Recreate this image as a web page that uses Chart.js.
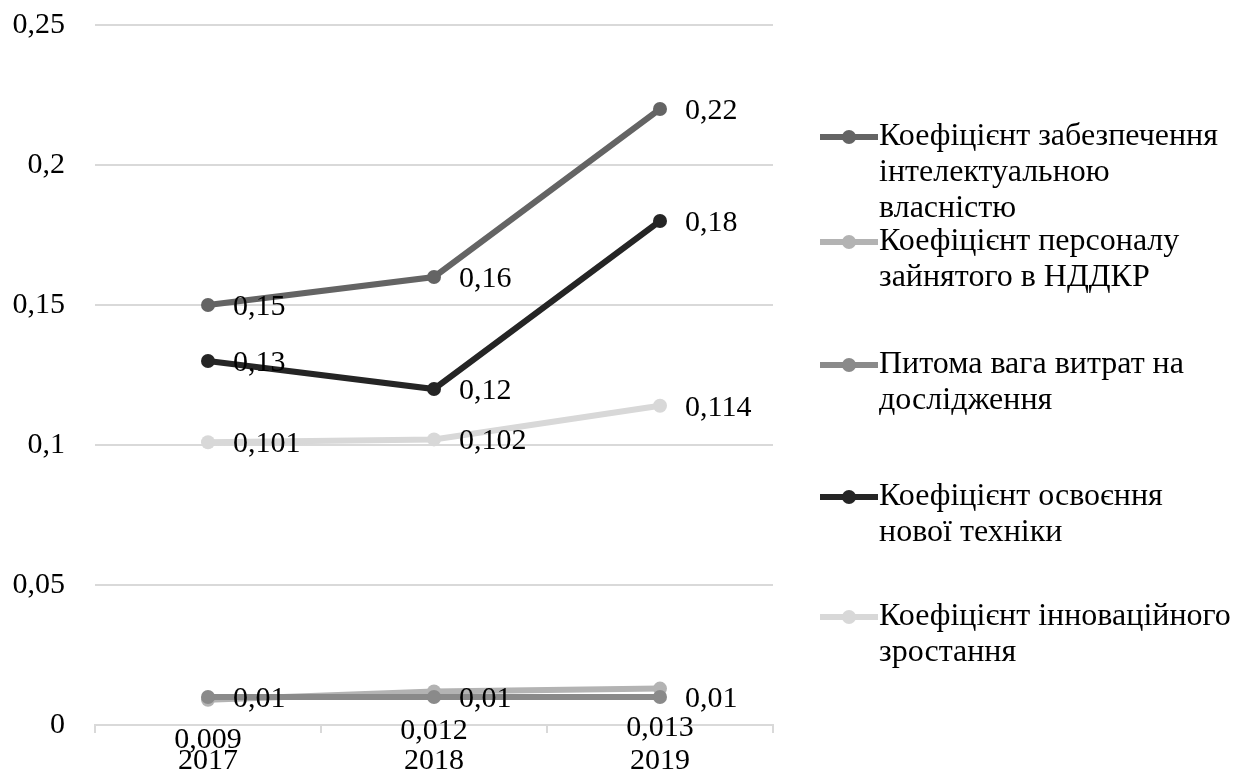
<!DOCTYPE html>
<html>
<head>
<meta charset="utf-8">
<script src="https://cdn.jsdelivr.net/npm/chart.js@4.4.1/dist/chart.umd.min.js"></script>
<style>
    html, body { margin: 0; padding: 0; background: #fff; }
    #wrap { width: 1248px; height: 774px; position: relative; }
</style>
</head>
<body>
<div id="wrap"><canvas id="chart"></canvas></div>
<script>
// Data
const years = ['2017', '2018', '2019'];
const intelProperty = [0.15, 0.16, 0.22];
const staffRnd = [0.009, 0.012, 0.013];
const researchShare = [0.01, 0.01, 0.01];
const newTech = [0.13, 0.12, 0.18];
const innovGrowth = [0.101, 0.102, 0.114];

const seriesNames = [
    ['Коефіцієнт забезпечення', 'інтелектуальною', 'власністю'],
    ['Коефіцієнт персоналу', 'зайнятого в НДДКР'],
    ['Питома вага витрат на', 'дослідження'],
    ['Коефіцієнт освоєння', 'нової техніки'],
    ['Коефіцієнт інноваційного', 'зростання']
];

const FONT = "'Liberation Serif', 'Times New Roman', serif";
const FONT_SIZE = 30;
const LEGEND_SIZE = 32;

const fmt = (v) => String(Number(v.toFixed(3))).replace('.', ',');

function makeSet(i, data, color, labelPos) {
    return {
        label: seriesNames[i].join(' '),
        data: data,
        borderColor: color,
        backgroundColor: color,
        borderWidth: 6,
        pointRadius: 7,
        pointHoverRadius: 7,
        pointBackgroundColor: color,
        pointBorderWidth: 0,
        tension: 0,
        order: 5 - i,
        labelPos: labelPos
    };
}

// Value labels next to each point
const valueLabels = {
    id: 'valueLabels',
    afterDatasetsDraw(chart) {
        const ctx = chart.ctx;
        ctx.save();
        ctx.font = FONT_SIZE + 'px ' + FONT;
        ctx.fillStyle = '#000';
        ctx.textBaseline = 'middle';
        chart.data.datasets.forEach((ds, di) => {
            const meta = chart.getDatasetMeta(di);
            meta.data.forEach((pt, i) => {
                const txt = fmt(ds.data[i]);
                if (ds.labelPos === 'below') {
                    ctx.textAlign = 'center';
                    ctx.fillText(txt, pt.x, pt.y + 40);
                } else {
                    ctx.textAlign = 'left';
                    ctx.fillText(txt, pt.x + 25, pt.y + 2);
                }
            });
        });
        ctx.restore();
    }
};

// Legend on the right, wrapped like the original
const sideLegend = {
    id: 'sideLegend',
    afterDraw(chart) {
        const ctx = chart.ctx;
        const tops = [137, 242, 365, 497, 617];
        const lineH = 36;
        ctx.save();
        ctx.font = LEGEND_SIZE + 'px ' + FONT;
        ctx.textAlign = 'left';
        ctx.textBaseline = 'middle';
        chart.data.datasets.forEach((ds, di) => {
            const y = tops[di];
            ctx.strokeStyle = ds.borderColor;
            ctx.lineWidth = 6;
            ctx.beginPath();
            ctx.moveTo(820, y);
            ctx.lineTo(878, y);
            ctx.stroke();
            ctx.fillStyle = ds.borderColor;
            ctx.beginPath();
            ctx.arc(849, y, 7, 0, Math.PI * 2);
            ctx.fill();
            ctx.fillStyle = '#000';
            seriesNames[di].forEach((line, li) => {
                ctx.fillText(line, 879, y + li * lineH);
            });
        });
        ctx.restore();
    }
};

new Chart(document.getElementById('chart'), {
    type: 'line',
    data: {
        labels: years,
        datasets: [
            makeSet(0, intelProperty, '#646464', 'right'),
            makeSet(1, staffRnd, '#b3b3b3', 'below'),
            makeSet(2, researchShare, '#8a8a8a', 'right'),
            makeSet(3, newTech, '#252525', 'right'),
            makeSet(4, innovGrowth, '#d8d8d8', 'right')
        ]
    },
    options: {
        responsive: true,
        maintainAspectRatio: false,
        animation: false,
        events: [],
        layout: { padding: { top: 25, right: 475, bottom: 0, left: 0 } },
        plugins: {
            legend: { display: false },
            tooltip: { enabled: false }
        },
        scales: {
            x: {
                offset: true,
                grid: {
                    offset: true,
                    drawOnChartArea: false,
                    drawTicks: true,
                    tickLength: 8,
                    color: '#d9d9d9',
                    lineWidth: 2
                },
                border: { color: '#d9d9d9', width: 2 },
                ticks: {
                    color: '#000',
                    font: { family: FONT, size: FONT_SIZE },
                    padding: 10,
                    maxRotation: 0
                },
                afterFit(scale) {
                    scale.height = 49;
                    scale.paddingLeft = 0;
                    scale.paddingRight = 0;
                }
            },
            y: {
                min: 0,
                max: 0.25,
                ticks: {
                    stepSize: 0.05,
                    color: '#000',
                    font: { family: FONT, size: FONT_SIZE },
                    padding: 30,
                    callback: (v) => fmt(v)
                },
                grid: { color: '#d9d9d9', lineWidth: 2, drawTicks: false },
                border: { display: false },
                afterFit(scale) {
                    scale.width = 95;
                    scale.paddingTop = 0;
                    scale.paddingBottom = 0;
                }
            }
        }
    },
    plugins: [valueLabels, sideLegend]
});
</script>
</body>
</html>
